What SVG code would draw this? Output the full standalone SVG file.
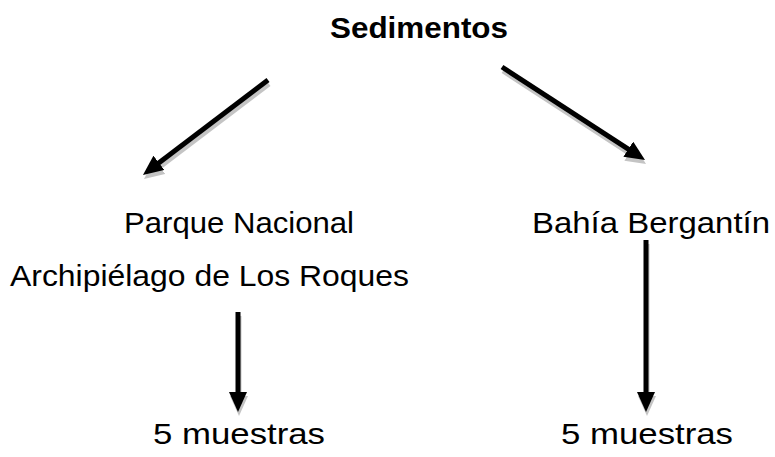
<svg xmlns="http://www.w3.org/2000/svg" width="775" height="457" viewBox="0 0 775 457">
<style>
text{font-family:"Liberation Sans",Arial,sans-serif;fill:#000;font-size:30px}
.t{font-weight:bold}
.ln{stroke:#000;stroke-width:5}
.sh{stroke:#c4c4c4;stroke-width:5}
</style>
<defs>
<marker id="ah" viewBox="0 0 20 18" refX="6" refY="9" markerWidth="20" markerHeight="18" markerUnits="userSpaceOnUse" orient="auto"><path d="M0,0 L20,9 L0,18 z" fill="#000"/></marker>
<marker id="ahs" viewBox="0 0 20 18" refX="6" refY="9" markerWidth="20" markerHeight="18" markerUnits="userSpaceOnUse" orient="auto"><path d="M0,0 L20,9 L0,18 z" fill="#c4c4c4"/></marker>
</defs>
<g id="connectors">
<g transform="translate(1,4)">
<line class="sh" x1="268" y1="80" x2="154.1" y2="166.5" marker-end="url(#ahs)"/>
<line class="sh" x1="502" y1="67" x2="633.3" y2="152.4" marker-end="url(#ahs)"/>
<line class="sh" x1="238" y1="312" x2="238" y2="398" marker-end="url(#ahs)"/>
<line class="sh" x1="646" y1="240" x2="646" y2="398" marker-end="url(#ahs)"/>
</g>
<line class="ln" x1="268" y1="80" x2="154.1" y2="166.5" marker-end="url(#ah)"/>
<line class="ln" x1="502" y1="67" x2="633.3" y2="152.4" marker-end="url(#ah)"/>
<line class="ln" x1="238" y1="312" x2="238" y2="398" marker-end="url(#ah)"/>
<line class="ln" x1="646" y1="240" x2="646" y2="398" marker-end="url(#ah)"/>
</g>
<g id="sedimentos"><text class="t" x="330" y="38" textLength="178" lengthAdjust="spacingAndGlyphs">Sedimentos</text></g>
<g id="roques"><text x="124" y="233" textLength="230" lengthAdjust="spacingAndGlyphs">Parque Nacional</text><text x="10" y="286" textLength="399" lengthAdjust="spacingAndGlyphs">Archipiélago de Los Roques</text></g>
<g id="bergantin"><text x="532" y="233" textLength="238" lengthAdjust="spacingAndGlyphs">Bahía Bergantín</text></g>
<g id="muestras1"><text x="153" y="444" textLength="172" lengthAdjust="spacingAndGlyphs">5 muestras</text></g>
<g id="muestras2"><text x="561" y="444" textLength="172" lengthAdjust="spacingAndGlyphs">5 muestras</text></g>
</svg>
